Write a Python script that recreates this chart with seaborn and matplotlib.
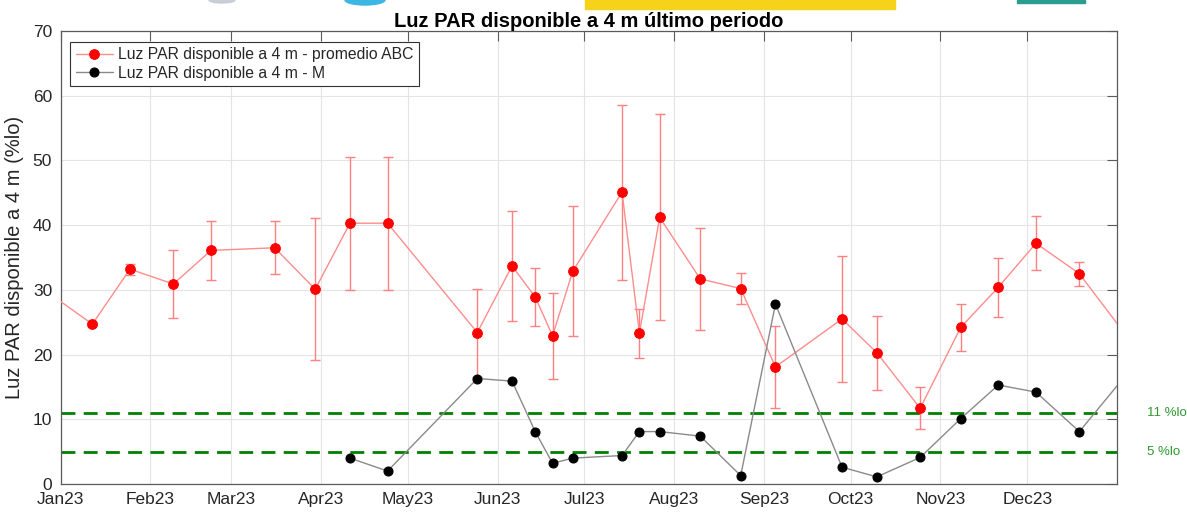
import numpy as np
import pandas as pd
import matplotlib
matplotlib.use("Agg")
import matplotlib.pyplot as plt
import matplotlib.dates as mdates
from matplotlib.patches import Rectangle, Ellipse
import seaborn as sns

# fechas de muestreo (incluye un punto antes y otro despues del periodo mostrado)
fechas = ["2022-12-22", "2023-01-12", "2023-01-25", "2023-02-09", "2023-02-22",
          "2023-03-16", "2023-03-30", "2023-04-11", "2023-04-24", "2023-05-25",
          "2023-06-06", "2023-06-14", "2023-06-20", "2023-06-27", "2023-07-14",
          "2023-07-20", "2023-07-27", "2023-08-10", "2023-08-24", "2023-09-05",
          "2023-09-28", "2023-10-10", "2023-10-25", "2023-11-08", "2023-11-21",
          "2023-12-04", "2023-12-19", "2024-01-09"]

# promedio ABC y su desviacion
par_abc = [31.4, 24.7, 33.2, 30.9, 36.1, 36.5, 30.1, 40.3, 40.3, 23.4,
           33.7, 28.9, 22.9, 32.9, 45.1, 23.3, 41.2, 31.7, 30.2, 18.1,
           25.5, 20.3, 11.7, 24.2, 30.4, 37.2, 32.5, 20.1]
par_abc_sd = [0.0, 0.3, 0.85, 5.2, 4.5, 4.1, 11.0, 10.3, 10.3, 6.8,
              8.5, 4.5, 6.6, 10.0, 13.5, 3.8, 15.9, 7.9, 2.45, 6.3,
              9.7, 5.7, 3.25, 3.6, 4.6, 4.2, 1.85, 0.0]

# estacion M
par_m = [np.nan, np.nan, np.nan, np.nan, np.nan, np.nan, np.nan, 4.0, 2.0, 16.3,
         15.9, 8.1, 3.2, 4.0, 4.4, 8.1, 8.1, 7.4, 1.3, 27.8,
         2.6, 1.1, 4.1, 10.1, 15.3, 14.2, 8.1, 19.5]

umbrales = [11, 5]
umbral_labels = ["11 %lo", "5 %lo"]

df = pd.DataFrame({"fecha": pd.to_datetime(fechas), "abc": par_abc,
                   "sd": par_abc_sd, "m": par_m})
df_m = df.dropna(subset=["m"])

sns.set_theme(style="white")
plt.rcParams["font.family"] = ["Liberation Sans", "DejaVu Sans"]

fig = plt.figure(figsize=(11.87, 5.12), dpi=100)
ax = fig.add_axes([60.5 / 1187, 1 - 484 / 512, (1117 - 60.5) / 1187, 453 / 512])

# logos recortados arriba
fig.patches.append(Rectangle((585 / 1187, 1 - 9 / 512), 310 / 1187, 9 / 512,
                             transform=fig.transFigure, color="#f6d21a", zorder=0))
fig.patches.append(Rectangle((1017 / 1187, 1 - 3 / 512), 68 / 1187, 3 / 512,
                             transform=fig.transFigure, color="#2a9d8f", zorder=0))
fig.patches.append(Ellipse((365 / 1187, 1.0), 40 / 1187, 10 / 512,
                           transform=fig.transFigure, color="#3cb6e3", zorder=0))
fig.patches.append(Ellipse((222 / 1187, 1.0), 26 / 1187, 6 / 512,
                           transform=fig.transFigure, color="#c9ced6", zorder=0))

ax.errorbar(df["fecha"], df["abc"], yerr=df["sd"], fmt="none",
            ecolor="#ff8080", elinewidth=1.0, capsize=3.5, capthick=1.0, zorder=2)
sns.lineplot(data=df, x="fecha", y="abc", ax=ax, color="#ff8c8c", lw=1.0,
             marker="o", markersize=7, markerfacecolor="red", markeredgecolor="red",
             label="Luz PAR disponible a 4 m - promedio ABC", zorder=3)
sns.lineplot(data=df_m, x="fecha", y="m", ax=ax, color="#8a8a8a", lw=1.0,
             marker="o", markersize=6.5, markerfacecolor="black", markeredgecolor="black",
             label="Luz PAR disponible a 4 m - M", zorder=4)

for u, lab in zip(umbrales, umbral_labels):
    ax.axhline(u, color="#008000", lw=2.0, ls=(0, (5, 3)), zorder=2.5)
    ax.text(1.028, u, lab, transform=ax.get_yaxis_transform(), color="#2e9a2e",
            fontsize=9.5, va="center", ha="left")

ax.set_xlim(pd.Timestamp("2023-01-01"), pd.Timestamp("2024-01-01"))
ax.set_ylim(0, 70)
ax.set_yticks(range(0, 71, 10))
ax.set_xticks(pd.date_range("2023-01-01", "2023-12-01", freq="MS"))
ax.xaxis.set_major_formatter(mdates.DateFormatter("%b%y"))
ax.grid(True, color="#e4e4e4", lw=0.8)
ax.set_axisbelow(True)
for s in ax.spines.values():
    s.set_color("#5a5a5a")
    s.set_linewidth(0.9)
ax.tick_params(direction="in", length=7, width=0.8, color="#5a5a5a",
               top=True, right=True, labelsize=12.5, labelcolor="#262626")
ax.tick_params(axis="x", pad=6)
ax.tick_params(axis="y", pad=6)
ax.set_xlabel("")
ax.set_ylabel("Luz PAR disponible a 4 m (%lo)", fontsize=14.5, color="#262626", labelpad=6)
ax.set_title("Luz PAR disponible a 4 m último periodo", fontsize=14.5, fontweight="bold",
             color="black", pad=3)

leg = ax.legend(loc="upper left", bbox_to_anchor=(0.009, 0.976), borderaxespad=0,
                fontsize=11.3, frameon=True, fancybox=False, framealpha=1,
                edgecolor="#333333", handlelength=2.4, handletextpad=0.3,
                labelspacing=0.2, borderpad=0.35)
leg.get_frame().set_linewidth(0.8)

fig.savefig("out.png", dpi=100)
